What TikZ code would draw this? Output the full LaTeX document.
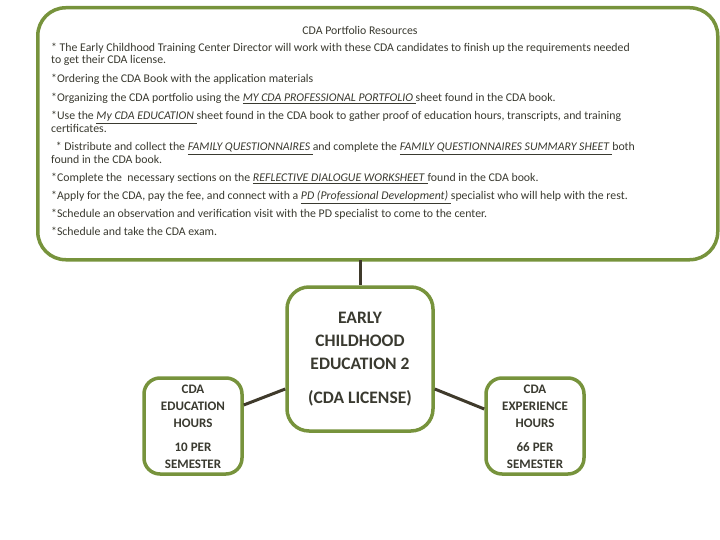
\documentclass[tikz,border=0pt]{standalone}
\usepackage{fontspec}
\setmainfont{Carlito}
\definecolor{grn}{HTML}{77933C}
\definecolor{txt}{HTML}{3A3A30}
\definecolor{ln}{HTML}{3F3A2B}
\begin{document}
\begin{tikzpicture}[x=1pt,y=-1pt,
  box/.style={draw=grn,line width=3.5pt,rounded corners=16pt,fill=white},
  ln/.style={draw=ln,line width=3pt},
  t/.style={anchor=base west,inner sep=0,font=\fontsize{11.8}{12}\selectfont,text=txt},
  big/.style={align=center,text=txt}]
\useasboundingbox (0,0) rectangle (720,540);
\newcommand{\ul}[1]{\underline{\textit{#1}}}
\node[box,minimum width=680pt,minimum height=252pt,anchor=north west,rounded corners=28pt] (top) at (36,6) {};
\node[t,anchor=base] (t0) at (360,35) {CDA Portfolio Resources};
\node[t] (t1) at (51,52) {* The Early Childhood Training Center Director will work with these CDA candidates to finish up the requirements needed};
\node[t] (t2) at (51,64) {to get their CDA license.};
\node[t] (t3) at (51,83) {*Ordering the CDA Book with the application materials};
\node[t] (t4) at (51,102) {*Organizing the CDA portfolio using the \ul{MY CDA PROFESSIONAL PORTFOLIO }sheet found in the CDA book.};
\node[t] (t5) at (51,120) {*Use the \ul{My CDA EDUCATION }sheet found in the CDA book to gather proof of education hours, transcripts, and training};
\node[t] (t6) at (51,133) {certificates.};
\node[t] (t7) at (53,151) {\ * Distribute and collect the \ul{FAMILY QUESTIONNAIRES }and complete the \ul{FAMILY QUESTIONNAIRES SUMMARY SHEET }both};
\node[t] (t8) at (51,164) {found in the CDA book.};
\node[t] (t9) at (51,182) {*Complete the \ necessary sections on the \ul{REFLECTIVE DIALOGUE WORKSHEET }found in the CDA book.};
\node[t] (t10) at (51,200) {*Apply for the CDA, pay the fee, and connect with a \ul{PD (Professional Development) }specialist who will help with the rest.};
\node[t] (t11) at (51,218) {*Schedule an observation and verification visit with the PD specialist to come to the center.};
\node[t] (t12) at (51,236) {*Schedule and take the CDA exam.};
\node[box,minimum width=146pt,minimum height=144pt,rounded corners=22pt] (c) at (360,359) {};
\node[big,font=\bfseries\fontsize{17.5}{23}\selectfont] (ct) at (360,341) {EARLY\\CHILDHOOD\\EDUCATION 2};
\node[big,font=\bfseries\fontsize{17.5}{23}\selectfont] (ct2) at (360,398) {(CDA LICENSE)};
\node[box,minimum width=98pt,minimum height=96pt] (l) at (193,426) {};
\node[big,font=\bfseries\fontsize{13}{17}\selectfont] (lt) at (193,406) {CDA\\EDUCATION\\HOURS};
\node[big,font=\bfseries\fontsize{13}{17}\selectfont] (lt2) at (193,456) {10 PER\\SEMESTER};
\node[box,minimum width=98pt,minimum height=96pt] (r) at (535,426) {};
\node[big,font=\bfseries\fontsize{13}{17}\selectfont] (rt) at (535,406) {CDA\\EXPERIENCE\\HOURS};
\node[big,font=\bfseries\fontsize{13}{17}\selectfont] (rt2) at (535,456) {66 PER\\SEMESTER};
\draw[ln] (360,260) -- (c.north);
\draw[ln] (l.east |- 0,405) -- (c.west |- 0,389);
\draw[ln] (c.east |- 0,389) -- (r.west |- 0,409);
\end{tikzpicture}
\end{document}
